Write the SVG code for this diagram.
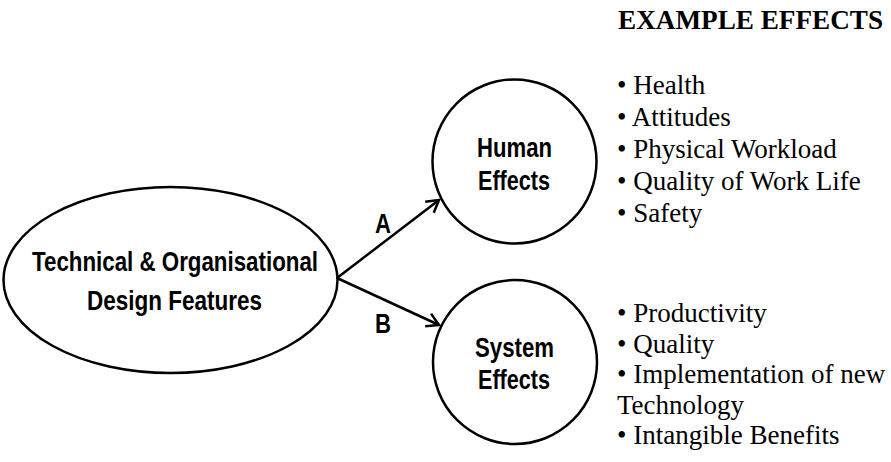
<svg xmlns="http://www.w3.org/2000/svg" width="891" height="462" viewBox="0 0 891 462">
<style>
.shape{fill:#fff;stroke:#000;stroke-width:2.5}
.conn{fill:none;stroke:#000;stroke-width:2.5}
.lbl{font-family:"Liberation Sans",Arial,sans-serif;font-weight:bold;font-size:27px;fill:#000}
.list{font-family:"Liberation Serif","Times New Roman",serif;font-size:27px;fill:#000}
.head{font-family:"Liberation Serif","Times New Roman",serif;font-size:27px;font-weight:bold;fill:#000}
</style>
<defs>
<marker id="arr" markerUnits="userSpaceOnUse" markerWidth="20" markerHeight="20" refX="14" refY="8" orient="auto" viewBox="0 0 20 16">
<path d="M2,1 L14,8 L2,15" fill="none" stroke="#000" stroke-width="2.5" stroke-linejoin="miter"/>
</marker>
</defs>
<g id="connectors">
<line class="conn" x1="337" y1="278" x2="439" y2="200" marker-end="url(#arr)"/>
<line class="conn" x1="337" y1="278" x2="439" y2="325" marker-end="url(#arr)"/>
<text class="lbl" x="383" y="233" text-anchor="middle" textLength="16" lengthAdjust="spacingAndGlyphs">A</text>
<text class="lbl" x="383" y="333" text-anchor="middle" textLength="16" lengthAdjust="spacingAndGlyphs">B</text>
</g>
<g id="design-features">
<ellipse class="shape" cx="170.5" cy="280" rx="167" ry="93"/>
<text class="lbl" x="175" y="271" text-anchor="middle" textLength="286" lengthAdjust="spacingAndGlyphs">Technical &amp; Organisational</text>
<text class="lbl" x="174.5" y="310" text-anchor="middle" textLength="175" lengthAdjust="spacingAndGlyphs">Design Features</text>
</g>
<g id="human-effects">
<circle class="shape" cx="514.5" cy="161.5" r="82"/>
<text class="lbl" x="514.5" y="157" text-anchor="middle" textLength="75" lengthAdjust="spacingAndGlyphs">Human</text>
<text class="lbl" x="514" y="190" text-anchor="middle" textLength="72" lengthAdjust="spacingAndGlyphs">Effects</text>
</g>
<g id="system-effects">
<circle class="shape" cx="515" cy="362" r="82"/>
<text class="lbl" x="514.5" y="357" text-anchor="middle" textLength="79" lengthAdjust="spacingAndGlyphs">System</text>
<text class="lbl" x="514" y="389" text-anchor="middle" textLength="72" lengthAdjust="spacingAndGlyphs">Effects</text>
</g>
<g id="example-effects">
<text class="head" x="618" y="28.5" textLength="265" lengthAdjust="spacingAndGlyphs">EXAMPLE EFFECTS</text>
<text class="list" x="617" y="94">• Health</text>
<text class="list" x="617" y="126">• Attitudes</text>
<text class="list" x="617" y="158">• Physical Workload</text>
<text class="list" x="617" y="190">• Quality of Work Life</text>
<text class="list" x="617" y="222">• Safety</text>
<text class="list" x="617" y="322">• Productivity</text>
<text class="list" x="617" y="352.5">• Quality</text>
<text class="list" x="617" y="383">• Implementation of new</text>
<text class="list" x="617" y="413.5">Technology</text>
<text class="list" x="617" y="444">• Intangible Benefits</text>
</g>
</svg>
